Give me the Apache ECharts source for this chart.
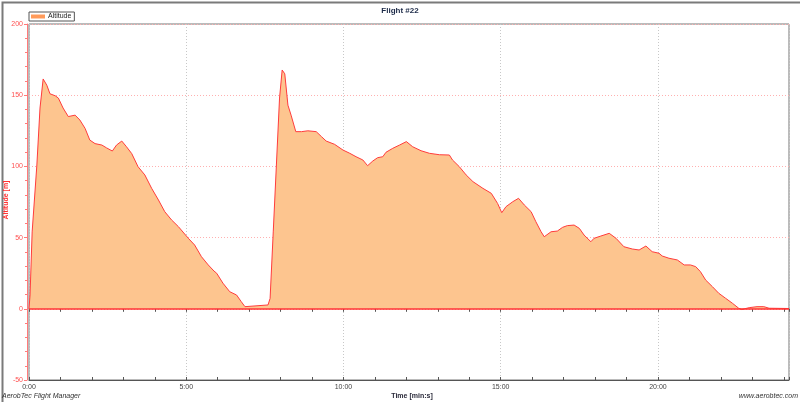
<!DOCTYPE html>
<html><head><meta charset="utf-8">
<script src="https://cdn.jsdelivr.net/npm/echarts@6/dist/echarts.min.js"></script>
<style>html,body{margin:0;padding:0;background:#fff}#c{width:800px;height:402px}</style>
</head><body><div id="c"></div>
<script>
const chartTitle = 'Flight #22';
const seriesName = 'Altitude';
const yTicks = [-50, 0, 50, 100, 150, 200];
const xTickLabels = ['0:00', '5:00', '10:00', '15:00', '20:00'];
const timeSec = [0,2,6,15,21,27,34,40,50,56,65,75,88,97,107,116,126,139,148,159,167,177,186,196,208,221,234,247,259,272,285,304,316,329,342,353,358,370,383,396,405,412,415,456,460,466,472,478,483,488,494,500,509,520,532,548,558,567,583,599,612,624,637,646,656,665,675,681,694,707,720,732,748,764,783,802,808,821,834,847,866,882,894,902,910,923,934,945,958,967,977,983,996,1008,1018,1027,1040,1050,1059,1072,1078,1091,1107,1120,1135,1151,1164,1177,1189,1202,1208,1221,1237,1250,1262,1272,1281,1291,1304,1316,1329,1342,1354,1360,1374,1389,1402,1412,1450];
const altitude = [0,9.7,54,101,141,161.4,157,151,149.6,148,141,135,136,132.6,126.7,118.5,116,115,113,110.8,115,117.8,113.8,109,99.8,94,84.6,76.4,68.2,62.4,57.7,49.5,44.8,36.6,30.8,26.5,25,18,12,9.7,5,1.5,2.2,2.7,7.3,54,101,148,167.7,165,143,136,124.4,124.4,125,124.4,120.9,117.8,115.5,111.5,109.2,106.8,104.5,100.5,103.8,106.1,106.8,109.9,112.7,115,117.4,113.8,111,109.2,108.2,108,104.5,99.8,94,89.3,84.6,81.1,74,67.5,71.7,75.2,77.6,72.9,68.2,61.2,54.1,50.6,54.1,54.6,57.2,58.4,58.8,56.5,51.8,47.1,49.5,51.1,53,49.5,43.6,42,41.3,44.1,40.1,39,37.1,35.5,34.3,30.8,30.8,29.6,26.1,20.2,15.5,10.9,7.4,3.9,0.4,-0.5,0.8,1.5,1.5,0.4,0.2];

function fmt(v){const m=Math.floor(v/60), s=Math.round(v%60); return m+':'+(s<10?'0':'')+s;}
const data = timeSec.map((t,i)=>[t, altitude[i]]);

const chart = echarts.init(document.getElementById('c'), null, {renderer:'canvas'});
chart.setOption({
  animation:false,
  backgroundColor:'#ffffff',
  title:{text:chartTitle, left:'center', top:2, textStyle:{fontFamily:'Liberation Sans', fontSize:8, fontWeight:'bold', color:'#1c2a48'}},
  legend:{left:29, top:12, itemWidth:14, itemHeight:4, itemGap:2, padding:[1,3,1,2], borderColor:'#555', borderWidth:1, backgroundColor:'#fff',
    textStyle:{fontFamily:'Liberation Sans', fontSize:7, color:'#222', padding:[0,0,0,-2]}, icon:'rect',
    data:[{name:seriesName, itemStyle:{color:'#ff9a5a'}}]},
  grid:{left:29, right:11, top:24, bottom:22, show:true, borderColor:'#777', borderWidth:1, backgroundColor:'transparent'},
  xAxis:[{type:'value', min:0, max:1450, interval:300,
    axisLine:{show:true, onZero:false, lineStyle:{color:'#555', width:1}},
    axisTick:{show:true, inside:true, length:3, lineStyle:{color:'#555'}},
    minorTick:{show:true, splitNumber:5, length:3, lineStyle:{color:'#555'}},
    axisLabel:{fontFamily:'Liberation Sans', fontSize:7, color:'#444', margin:4, showMaxLabel:false,
      formatter:(v)=>{const l=fmt(v); return xTickLabels.includes(l)?l:'';}},
    splitLine:{show:true, lineStyle:{color:'#c8c8c8', type:[1,2], width:1}}},
   {type:'value', position:'top', min:0, max:1450, interval:300,
    axisLine:{show:false}, axisLabel:{show:false}, splitLine:{show:false},
    axisTick:{show:true, inside:true, length:3, lineStyle:{color:'#555'}},
    minorTick:{show:true, splitNumber:5, length:3, lineStyle:{color:'#555'}}}],
  yAxis:{type:'value', min:yTicks[0], max:yTicks[yTicks.length-1], interval:50, offset:2,
    axisLine:{show:true, onZero:false, lineStyle:{color:'#ff7a7a', width:1}},
    axisTick:{show:true, length:3, lineStyle:{color:'#ff7a7a'}},
    minorTick:{show:true, splitNumber:5, length:2, lineStyle:{color:'#ff7a7a'}},
    axisLabel:{fontFamily:'Liberation Sans', fontSize:7, color:'#ff5050', margin:4},
    splitLine:{show:true, lineStyle:{color:'#ffb0b0', type:[1,2], width:1}}},
  series:[{name:seriesName, type:'line', data:data, symbol:'none', smooth:false,
    lineStyle:{color:'#ff3c3c', width:1}, itemStyle:{color:'#ff9a5a'},
    areaStyle:{color:'#fdc58f', opacity:1},
    markLine:{silent:true, symbol:'none', label:{show:false}, lineStyle:{color:'#ff3030', type:'solid', width:1.5},
      data:[{yAxis:0}]}}],
  graphic:[
    {type:'rect', left:0, top:0, shape:{width:799, height:401}, style:{fill:'none', stroke:'#7a7a7a', lineWidth:2}, silent:true},
    {type:'text', x:6, y:200, rotation:Math.PI/2, style:{text:'Altitude [m]', fontFamily:'Liberation Sans', fontSize:7, fontWeight:'bold', fill:'#ff3030', align:'center', verticalAlign:'middle'}},
    {type:'text', x:412, y:396, style:{text:'Time [min:s]', fontFamily:'Liberation Sans', fontSize:7, fontWeight:'bold', fill:'#2a2a3a', align:'center', verticalAlign:'middle'}},
    {type:'text', x:2, y:396, style:{text:'AerobTec Flight Manager', fontFamily:'Liberation Sans', fontSize:7, fontStyle:'italic', fill:'#333', align:'left', verticalAlign:'middle'}},
    {type:'text', x:798, y:396, style:{text:'www.aerobtec.com', fontFamily:'Liberation Sans', fontSize:7, fontStyle:'italic', fill:'#333', align:'right', verticalAlign:'middle'}}
  ]
});
</script></body></html>
